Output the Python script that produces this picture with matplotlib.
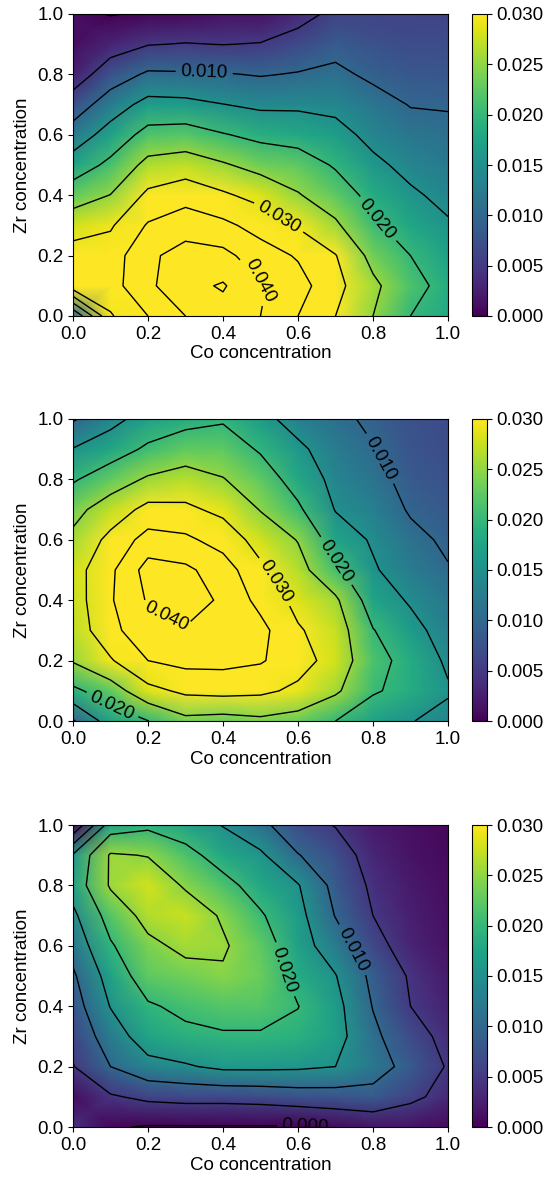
import numpy as np
import matplotlib
matplotlib.rcParams['font.family'] = ['Liberation Sans', 'DejaVu Sans']
matplotlib.rcParams['font.size'] = 13.5
import matplotlib.pyplot as plt
from matplotlib.ticker import FormatStrFormatter

# grid of compositions
co = [0.0, 0.1, 0.2, 0.3, 0.4, 0.5, 0.6, 0.7, 0.8, 0.9, 1.0]
zr = [0.0, 0.1, 0.2, 0.3, 0.4, 0.5, 0.6, 0.7, 0.8, 0.9, 1.0]

# rows = Zr (bottom -> top), columns = Co (left -> right)
top_vals = [
    [0.0101, 0.0295, 0.0350, 0.0400, 0.0430, 0.0400, 0.0350, 0.0300, 0.0250, 0.0200, 0.0180],
    [0.0330, 0.0330, 0.0390, 0.0435, 0.0455, 0.0405, 0.0370, 0.0315, 0.0260, 0.0215, 0.0185],
    [0.0320, 0.0325, 0.0390, 0.0420, 0.0414, 0.0373, 0.0345, 0.0302, 0.0235, 0.0200, 0.0170],
    [0.0279, 0.0294, 0.0355, 0.0378, 0.0362, 0.0331, 0.0295, 0.0257, 0.0207, 0.0178, 0.0155],
    [0.0227, 0.0251, 0.0310, 0.0331, 0.0307, 0.0284, 0.0253, 0.0226, 0.0185, 0.0157, 0.0138],
    [0.0173, 0.0211, 0.0264, 0.0273, 0.0255, 0.0234, 0.0225, 0.0195, 0.0160, 0.0137, 0.0122],
    [0.0122, 0.0170, 0.0216, 0.0221, 0.0203, 0.0188, 0.0180, 0.0166, 0.0137, 0.0118, 0.0110],
    [0.0073, 0.0125, 0.0166, 0.0163, 0.0151, 0.0141, 0.0142, 0.0138, 0.0118, 0.0098, 0.0097],
    [0.0025, 0.0075, 0.0107, 0.0105, 0.0103, 0.0097, 0.0103, 0.0110, 0.0091, 0.0082, 0.0080],
    [0.0010, 0.0030, 0.0048, 0.0052, 0.0049, 0.0052, 0.0067, 0.0085, 0.0075, 0.0068, 0.0070],
    [0.0010, -0.0002, 0.0005, 0.0008, 0.0015, 0.0015, 0.0035, 0.0060, 0.0060, 0.0060, 0.0060],
]

mid_vals = [
    [0.0095, 0.0174, 0.0199, 0.0237, 0.0231, 0.0240, 0.0230, 0.0200, 0.0170, 0.0152, 0.0135],
    [0.0190, 0.0225, 0.0285, 0.0310, 0.0315, 0.0310, 0.0290, 0.0258, 0.0205, 0.0185, 0.0155],
    [0.0254, 0.0295, 0.0350, 0.0365, 0.0365, 0.0355, 0.0320, 0.0280, 0.0215, 0.0185, 0.0142],
    [0.0270, 0.0335, 0.0385, 0.0395, 0.0385, 0.0365, 0.0305, 0.0275, 0.0202, 0.0165, 0.0130],
    [0.0275, 0.0345, 0.0405, 0.0430, 0.0390, 0.0335, 0.0285, 0.0258, 0.0175, 0.0145, 0.0118],
    [0.0278, 0.0340, 0.0420, 0.0410, 0.0375, 0.0310, 0.0267, 0.0210, 0.0155, 0.0125, 0.0103],
    [0.0260, 0.0313, 0.0370, 0.0360, 0.0330, 0.0280, 0.0248, 0.0175, 0.0145, 0.0113, 0.0092],
    [0.0236, 0.0273, 0.0314, 0.0310, 0.0288, 0.0248, 0.0208, 0.0148, 0.0130, 0.0095, 0.0083],
    [0.0195, 0.0227, 0.0256, 0.0268, 0.0252, 0.0225, 0.0180, 0.0137, 0.0115, 0.0085, 0.0075],
    [0.0152, 0.0177, 0.0208, 0.0227, 0.0225, 0.0195, 0.0160, 0.0125, 0.0102, 0.0078, 0.0070],
    [0.0095, 0.0135, 0.0170, 0.0185, 0.0195, 0.0165, 0.0130, 0.0110, 0.0092, 0.0075, 0.0068],
]

bot_vals = [
    [0.0040, 0.0004, -0.0003, -0.0003, -0.0003, -0.0003, -0.0003, 0.0008, 0.0015, 0.0015, 0.0008],
    [0.0010, 0.0045, 0.0060, 0.0065, 0.0065, 0.0068, 0.0075, 0.0078, 0.0085, 0.0060, 0.0035],
    [0.0048, 0.0100, 0.0135, 0.0145, 0.0160, 0.0160, 0.0158, 0.0150, 0.0120, 0.0085, 0.0046],
    [0.0063, 0.0125, 0.0175, 0.0190, 0.0195, 0.0195, 0.0190, 0.0168, 0.0110, 0.0068, 0.0037],
    [0.0078, 0.0152, 0.0195, 0.0210, 0.0220, 0.0220, 0.0201, 0.0165, 0.0098, 0.0050, 0.0027],
    [0.0093, 0.0170, 0.0225, 0.0235, 0.0245, 0.0232, 0.0185, 0.0152, 0.0088, 0.0045, 0.0020],
    [0.0118, 0.0195, 0.0240, 0.0260, 0.0255, 0.0225, 0.0170, 0.0125, 0.0065, 0.0030, 0.0015],
    [0.0140, 0.0220, 0.0265, 0.0275, 0.0245, 0.0205, 0.0165, 0.0098, 0.0050, 0.0025, 0.0012],
    [0.0170, 0.0255, 0.0280, 0.0245, 0.0215, 0.0180, 0.0153, 0.0085, 0.0042, 0.0020, 0.0010],
    [0.0155, 0.0255, 0.0248, 0.0215, 0.0180, 0.0158, 0.0102, 0.0072, 0.0032, 0.0015, 0.0008],
    [0.0005, 0.0175, 0.0190, 0.0175, 0.0148, 0.0112, 0.0068, 0.0048, 0.0020, 0.0012, 0.0005],
]

# labelled levels drawn as one set, the in-between levels as another
label_levels = [0.000, 0.010, 0.020, 0.030, 0.040]
plain_levels = [0.005, 0.015, 0.025, 0.035, 0.045]
cbar_ticks = [0.000, 0.005, 0.010, 0.015, 0.020, 0.025, 0.030]
axis_ticks = [0.0, 0.2, 0.4, 0.6, 0.8, 1.0]

# where the inline labels sit (data coords, nearest contour is picked)
label_spots = [
    [(0.35, 0.81), (0.82, 0.33), (0.57, 0.37), (0.50, 0.12)],
    [(0.82, 0.87), (0.69, 0.52), (0.11, 0.07), (0.55, 0.47), (0.25, 0.35)],
    [(0.62, 0.00), (0.75, 0.59), (0.56, 0.52)],
]

W, H = 552, 1180
fig = plt.figure(figsize=(W / 100, H / 100), dpi=100)

panel_tops = [14, 419, 825]
panel_h = 302

for k, vals in enumerate([top_vals, mid_vals, bot_vals]):
    y0 = 1 - (panel_tops[k] + panel_h) / H
    ax = fig.add_axes([73 / W, y0, 375 / W, panel_h / H])
    cax = fig.add_axes([472 / W, y0, 15 / W, panel_h / H])

    Z = np.array(vals)
    mesh = ax.pcolormesh(co, zr, Z, shading='gouraud', cmap='viridis',
                         vmin=0.0, vmax=0.03)
    ax.contour(co, zr, Z, levels=plain_levels, colors='k', linewidths=1.0)
    cs = ax.contour(co, zr, Z, levels=label_levels, colors='k', linewidths=1.0)
    ax.clabel(cs, inline=True, fmt='%.3f', fontsize=13.5,
              manual=label_spots[k])

    ax.set_xlim(0, 1)
    ax.set_ylim(0, 1)
    ax.set_xticks(axis_ticks)
    ax.set_yticks(axis_ticks)
    ax.xaxis.set_major_formatter(FormatStrFormatter('%.1f'))
    ax.yaxis.set_major_formatter(FormatStrFormatter('%.1f'))
    ax.set_xlabel('Co concentration', labelpad=2)
    ax.set_ylabel('Zr concentration', labelpad=4)

    cb = fig.colorbar(mesh, cax=cax, ticks=cbar_ticks)
    cb.ax.yaxis.set_major_formatter(FormatStrFormatter('%.3f'))

plt.savefig('out.png', dpi=100)
plt.close(fig)
